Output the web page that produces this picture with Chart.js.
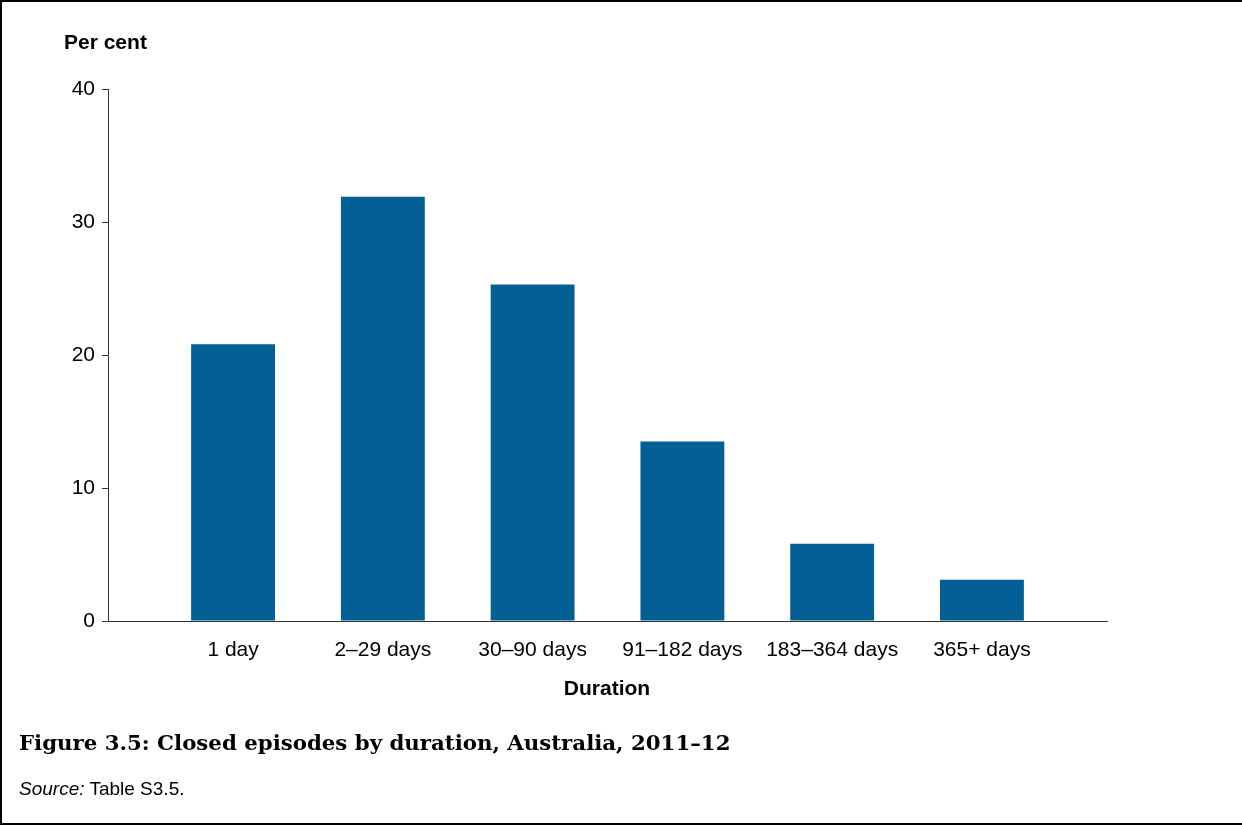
<!DOCTYPE html>
<html>
<head>
<meta charset="utf-8">
<script src="https://cdn.jsdelivr.net/npm/chart.js@4/dist/chart.umd.min.js"></script>
<style>
  body { margin: 0; background: #fff; }
  #frame {
    position: absolute; left: 0; top: 0; width: 1242px; height: 821px;
    border-left: 2px solid #000; border-top: 2px solid #000; border-bottom: 2px solid #000;
  }
  #wrap { position: absolute; left: 0; top: 0; width: 1242px; height: 825px; }
  .lbl { position: absolute; font-family: "Liberation Sans", Arial, sans-serif; color: #000; white-space: nowrap; }
  #ytitle { left: 64px; top: 30px; font-size: 21px; font-weight: bold; }
  #xtitle { left: 0; width: 1214px; text-align: center; top: 676px; font-size: 21px; font-weight: bold; }
  #caption { left: 19px; top: 730px; font-family: "DejaVu Serif", serif; font-size: 21px; font-weight: bold; }
  #source { left: 19px; top: 778px; font-size: 19px; }
</style>
</head>
<body>
<div id="frame"></div>
<div id="wrap"><canvas id="chart" width="1242" height="825"></canvas></div>
<div class="lbl" id="ytitle">Per cent</div>
<div class="lbl" id="xtitle">Duration</div>
<div class="lbl" id="caption">Figure 3.5: Closed episodes by duration, Australia, 2011–12</div>
<div class="lbl" id="source"><i>Source:</i> Table S3.5.</div>
<script>
// Data
const categories = ['1 day', '2–29 days', '30–90 days', '91–182 days', '183–364 days', '365+ days'];
const perCent = [20.8, 31.9, 25.3, 13.5, 5.8, 3.1];
const yTicks = [0, 10, 20, 30, 40];

const FONT = '"Liberation Sans", Arial, sans-serif';
const BAR_COLOUR = '#035f94';
const AXIS_COLOUR = '#333333';

const points = categories.map((c, i) => ({ x: i, y: perCent[i] }));

// Caption is set in a wider serif in the original; squeeze/stretch ours to the same width
const cap = document.getElementById('caption');
cap.style.fontSize = (21 * 712 / cap.getBoundingClientRect().width) + 'px';

const ctx = document.getElementById('chart').getContext('2d');
const chart = new Chart(ctx, {
    type: 'bar',
    data: {
        datasets: [{
            data: points,
            backgroundColor: BAR_COLOUR,
            borderWidth: 0,
            barPercentage: 0.56,
            categoryPercentage: 1
        }]
    },
    options: {
        responsive: false,
        animation: false,
        layout: { padding: { left: 0, right: 135, top: 89, bottom: 164 } },
        plugins: { legend: { display: false }, tooltip: { enabled: false } },
        scales: {
            x: {
                type: 'linear',
                offset: false,
                min: -0.835,
                max: 5.835,
                grid: { display: false, drawTicks: false },
                border: { display: true, color: AXIS_COLOUR, width: 1 },
                afterBuildTicks: function(scale) {
                    scale.ticks = categories.map((c, i) => ({ value: i }));
                },
                afterFit: function(scale) { scale.height = 40; },
                ticks: {
                    autoSkip: false,
                    maxRotation: 0,
                    padding: 17,
                    color: '#000',
                    font: { family: FONT, size: 21 },
                    callback: function(value) { return categories[value]; }
                }
            },
            y: {
                min: 0,
                max: 40,
                grid: { display: true, drawOnChartArea: false, drawTicks: true, tickLength: 6, color: AXIS_COLOUR },
                border: { display: true, color: AXIS_COLOUR, width: 1 },
                afterBuildTicks: function(scale) {
                    scale.ticks = yTicks.map(v => ({ value: v }));
                },
                afterFit: function(scale) { scale.width = 108; },
                ticks: {
                    padding: 7,
                    color: '#000',
                    font: { family: FONT, size: 21 }
                }
            }
        }
    }
});
</script>
</body>
</html>
